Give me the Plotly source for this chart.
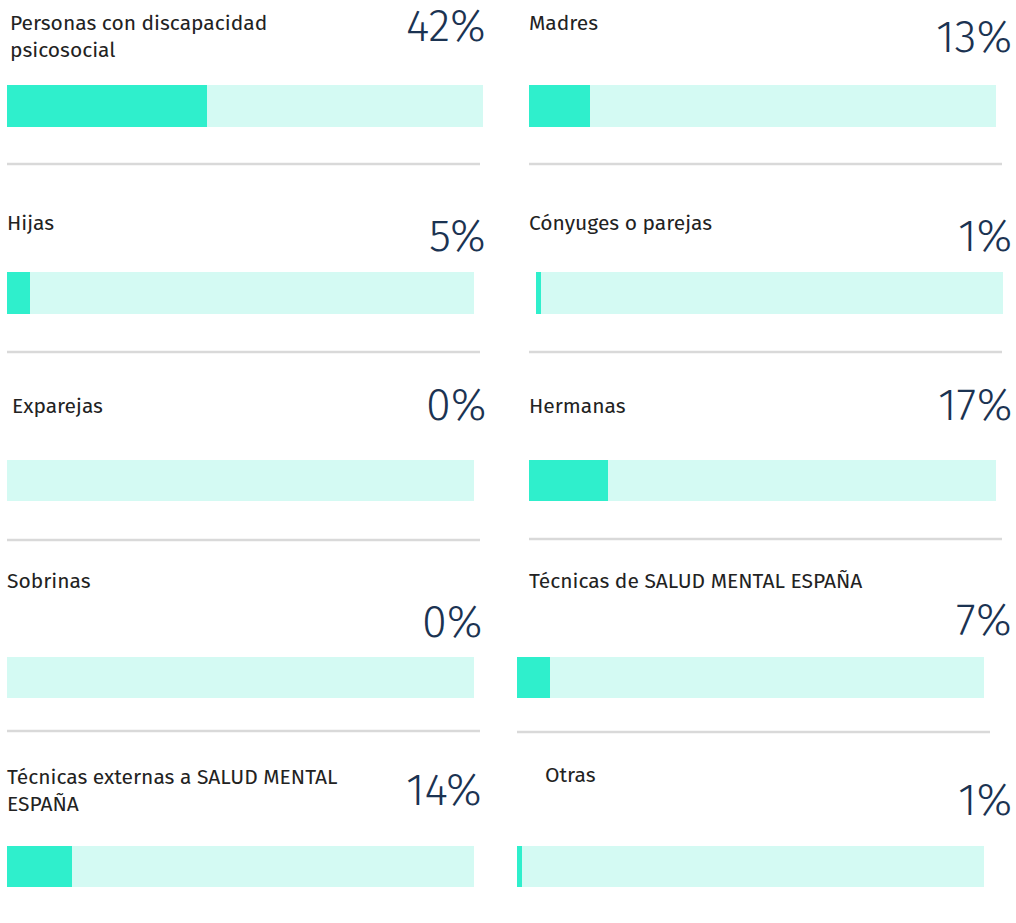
import plotly.graph_objects as go

W, H = 1016, 923

# ---- data ----
categories = [
    "Personas con discapacidad<br>psicosocial", "Madres",
    "Hijas", "Cónyuges o parejas",
    "Exparejas", "Hermanas",
    "Sobrinas", "Técnicas de SALUD MENTAL ESPAÑA",
    "Técnicas externas a SALUD MENTAL<br>ESPAÑA", "Otras",
]
values = [42, 13, 5, 1, 0, 17, 0, 7, 14, 1]
total = [100] * 10

# ---- layout (pixel geometry per panel) ----
# bar: x0, x1, y0, y1 ; label: x, ytop ; pct: xright, ycenter ; sep: x0, x1, y
panels = [
    dict(bar=(7, 483, 85, 127), lab=(8, 8), pct=(488, 26), sep=(7, 480, 164)),
    dict(bar=(529, 996, 85, 127), lab=(527, 8), pct=(1014, 37), sep=(529, 1002, 164)),
    dict(bar=(7, 474, 272, 314), lab=(5, 208), pct=(488, 236), sep=(7, 480, 352)),
    dict(bar=(536, 1003, 272, 314), lab=(527, 208), pct=(1014, 236), sep=(529, 1002, 352)),
    dict(bar=(7, 474, 460, 501), lab=(10, 391), pct=(488, 405), sep=(7, 480, 540)),
    dict(bar=(529, 996, 460, 501), lab=(527, 391), pct=(1014, 405), sep=(529, 1002, 539)),
    dict(bar=(7, 474, 657, 698), lab=(5, 566), pct=(484, 622), sep=(7, 480, 731)),
    dict(bar=(517, 984, 657, 698), lab=(527, 566), pct=(1014, 620), sep=(517, 990, 732)),
    dict(bar=(7, 474, 846, 887), lab=(5, 762), pct=(484, 790), sep=None),
    dict(bar=(517, 984, 846, 887), lab=(543, 760), pct=(1014, 800), sep=None),
]

FILL = "#2FEFCC"
TRACK = "#D4FAF3"
LABEL_C = "#222222"
PCT_C = "#1B3352"
FONT = "Fira Sans, Open Sans, Noto Sans, sans-serif"

fig = go.Figure()
layout_axes = {}
annotations = []
shapes = []

for i, (cat, val, tot, p) in enumerate(zip(categories, values, total, panels)):
    n = i + 1
    xa = "x" if n == 1 else f"x{n}"
    ya = "y" if n == 1 else f"y{n}"
    x0, x1, y0, y1 = p["bar"]
    fig.add_trace(go.Bar(x=[tot], y=[0], orientation="h", width=1,
                         marker=dict(color=TRACK, line=dict(width=0)),
                         xaxis=xa, yaxis=ya, hoverinfo="skip", showlegend=False))
    fig.add_trace(go.Bar(x=[val], y=[0], orientation="h", width=1,
                         marker=dict(color=FILL, line=dict(width=0)),
                         xaxis=xa, yaxis=ya, showlegend=False,
                         hovertemplate=f"{val}%<extra></extra>"))
    xk = "xaxis" if n == 1 else f"xaxis{n}"
    yk = "yaxis" if n == 1 else f"yaxis{n}"
    layout_axes[xk] = dict(domain=[x0 / W, x1 / W], range=[0, 100], visible=False,
                           anchor=ya, fixedrange=True)
    layout_axes[yk] = dict(domain=[1 - y1 / H, 1 - y0 / H], range=[-0.5, 0.5],
                           visible=False, anchor=xa, fixedrange=True)
    lx, ly = p["lab"]
    annotations.append(dict(text=cat, xref="paper", yref="paper",
                            x=lx / W, y=1 - ly / H, xanchor="left", yanchor="top",
                            align="left", showarrow=False,
                            font=dict(family=FONT, size=21, color=LABEL_C, weight=400)))
    px_, py_ = p["pct"]
    annotations.append(dict(text=f"{val}%", xref="paper", yref="paper",
                            x=px_ / W, y=1 - py_ / H, xanchor="right", yanchor="middle",
                            showarrow=False, height=40,
                            font=dict(family=FONT, size=45, color=PCT_C, weight=300)))
    if p["sep"]:
        sx0, sx1, sy = p["sep"]
        shapes.append(dict(type="line", xref="paper", yref="paper",
                           x0=sx0 / W, x1=sx1 / W, y0=1 - sy / H, y1=1 - sy / H,
                           line=dict(color="#D9D9D9", width=2.5)))

fig.update_layout(
    width=W, height=H, margin=dict(l=0, r=0, t=0, b=0),
    paper_bgcolor="white", plot_bgcolor="rgba(0,0,0,0)",
    barmode="overlay", bargap=0, showlegend=False,
    annotations=annotations, shapes=shapes,
    **layout_axes,
)

fig.write_html("out.html", config=dict(displayModeBar=False))
